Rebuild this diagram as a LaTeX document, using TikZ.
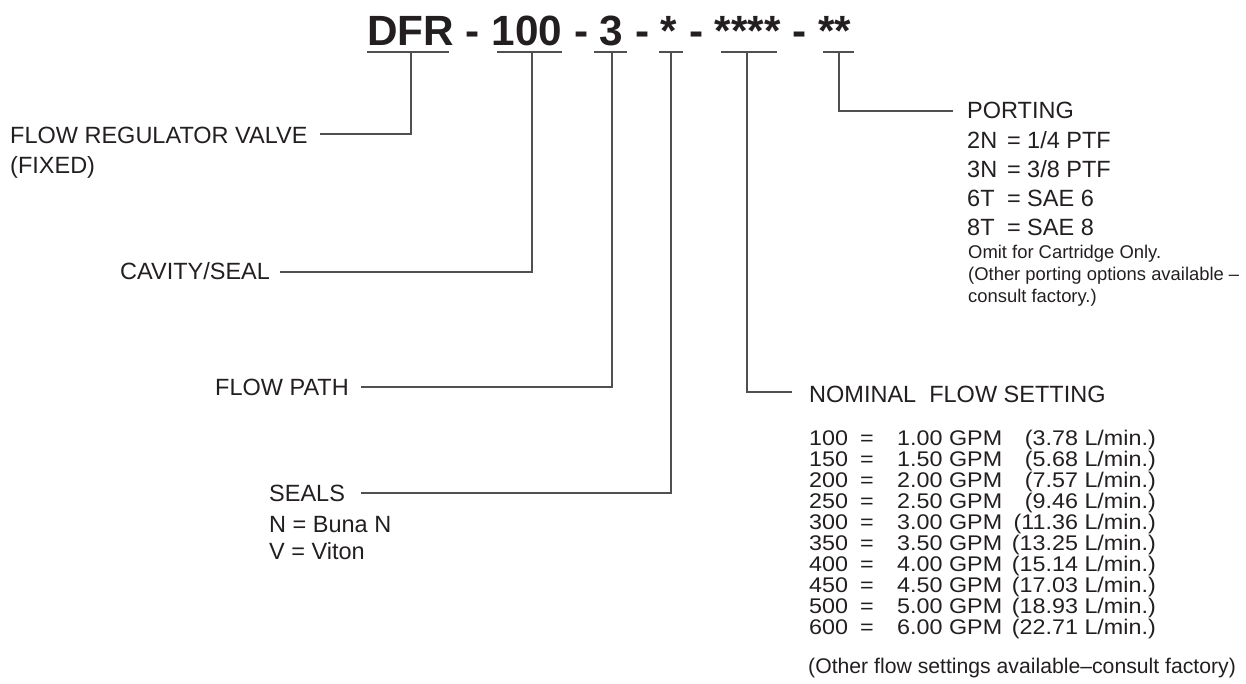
\documentclass[tikz,border=0pt]{standalone}
\usepackage{fontspec}
\setmainfont{Liberation Sans}
\newfontfamily\tabfont[FakeStretch=1.1]{Liberation Sans}
\definecolor{ink}{RGB}{35,31,32}
\definecolor{wire}{RGB}{80,80,80}

\begin{document}
\begin{tikzpicture}[x=1pt, y=-1pt, line cap=butt,
  every node/.style={inner sep=0pt, text=ink},
  lbl/.style={anchor=base west, font=\fontsize{23.5}{28}\selectfont},
  tab/.style={font=\tabfont\fontsize{21.2}{21}\selectfont},
  note/.style={anchor=base west, font=\fontsize{18.4}{22}\selectfont},
  lead/.style={draw=wire, line width=1.2pt},
  uline/.style={draw=wire, line width=1.2pt}]
\useasboundingbox (0,0) rectangle (1246,683);

% model code across the top
\node[anchor=base west, font=\fontsize{42.3}{42}\selectfont\bfseries] (code) at (367,45) {DFR - 100 - 3 - * - **** - **};

% underlines under each field, with a tap in the middle
\foreach \nm/\xa/\xb/\xt in {dfr/367/449/411, cav/497/562/532, path/594/627/612,
    seal/659/683/671, set/721/777/747, port/823/854/839} {
  \draw[uline] (\xa,52) -- (\xb,52);
  \coordinate (t\nm) at (\xt,52);
}

% left column of labels
\node[lbl] (valve) at (10,143) {FLOW REGULATOR VALVE};
\node[lbl] (fixed) at (10,173) {(FIXED)};
\node[lbl] (cavity) at (120,279) {CAVITY/SEAL};
\node[lbl] (path) at (215,395) {FLOW PATH};
\node[lbl] (seals) at (269,501) {SEALS};
\node[lbl] (buna) at (269,532) {N = Buna N};
\node[lbl] (viton) at (269,559) {V = Viton};

\draw[lead] ([shift={(12,-9)}]valve.base east) -| (tdfr);
\draw[lead] ([shift={(10,-7)}]cavity.base east) -| (tcav);
\draw[lead] ([shift={(12,-8)}]path.base east) -| (tpath);
\draw[lead] ([shift={(16,-8)}]seals.base east) -| (tseal);

% porting options, top right
\node[lbl] (porting) at (967,118) {PORTING};
\foreach \key/\val [count=\i from 0] in {2N/{1/4 PTF}, 3N/{3/8 PTF}, 6T/SAE 6, 8T/SAE 8} {
  \node[lbl] (pk\i) at (967,{148+29*\i}) {\key};
  \node[lbl] (pe\i) at (1007,{148+29*\i}) {=};
  \node[lbl] (pv\i) at (1027,{148+29*\i}) {\val};
}
\node[note] (omit) at (968,258) {Omit for Cartridge Only.};
\node[note] (other) at (968,280) {(Other porting options available --};
\node[note] (consult) at (968,302) {consult factory.)};
\draw[lead] ([shift={(-14,-7)}]porting.base west) -| (tport);

% flow settings table
\node[lbl] (flow) at (809,402) {NOMINAL\ \ FLOW SETTING};
\draw[lead] ([shift={(-17,-10)}]flow.base west) -| (tset);
\foreach \sz/\gpm/\lpm [count=\i from 0] in {100/1.00/3.78, 150/1.50/5.68, 200/2.00/7.57,
    250/2.50/9.46, 300/3.00/11.36, 350/3.50/13.25, 400/4.00/15.14, 450/4.50/17.03,
    500/5.00/18.93, 600/6.00/22.71} {
  \node[tab, anchor=base west] (fs\i) at (809,{445+21.1*\i}) {\sz};
  \node[tab, anchor=base west] (fe\i) at (860,{445+21.1*\i}) {=};
  \node[tab, anchor=base west] (fg\i) at (897,{445+21.1*\i}) {\gpm\ GPM};
  \node[tab, anchor=base east] (fl\i) at (1156,{445+21.1*\i}) {(\lpm\ L/min.)};
}
\node[anchor=base west, font=\fontsize{21.2}{24}\selectfont] (more) at (808,673) {(Other flow settings available--consult factory)};

\end{tikzpicture}
\end{document}
